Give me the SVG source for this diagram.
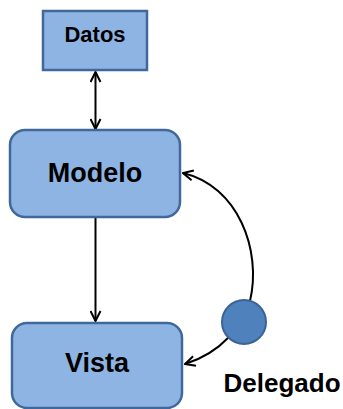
<svg xmlns="http://www.w3.org/2000/svg" width="343" height="409" viewBox="0 0 343 409">
<style>
.box{fill:#8EB4E3;stroke:#41689A;stroke-width:2.5}
.lbl{font-family:"Liberation Sans",Arial,sans-serif;font-weight:bold;fill:#000;text-anchor:middle}
.con{fill:none;stroke:#000;stroke-width:2}
</style>
<defs>
<marker id="ah" viewBox="0 0 12 12" refX="11" refY="6" markerWidth="12" markerHeight="12" markerUnits="userSpaceOnUse" orient="auto-start-reverse">
<path d="M1,1 L11,6 L1,11" fill="none" stroke="#000" stroke-width="2"/>
</marker>
</defs>
<rect width="343" height="409" fill="#fff"/>
<g id="connectors">
<line class="con" x1="95.5" y1="72" x2="95.5" y2="129" marker-start="url(#ah)" marker-end="url(#ah)"/>
<line class="con" x1="95.5" y1="218" x2="95.5" y2="321" marker-end="url(#ah)"/>
<path class="con" d="M250 301 C262 250 238 186 183 173" marker-end="url(#ah)"/>
<path class="con" d="M229 337 Q211 356 185 364" marker-end="url(#ah)"/>
</g>
<g id="datos">
<rect class="box" x="43" y="11" width="104" height="59"/>
<text class="lbl" x="95" y="42" font-size="22">Datos</text>
</g>
<g id="modelo">
<rect class="box" x="10" y="130" width="170" height="87" rx="15"/>
<text class="lbl" x="95" y="182" font-size="27">Modelo</text>
</g>
<g id="vista">
<rect class="box" x="12" y="323" width="170" height="85" rx="15"/>
<text class="lbl" x="97" y="372" font-size="27">Vista</text>
</g>
<g id="delegado">
<circle cx="244" cy="322" r="22" fill="#4F81BD" stroke="#3A6496" stroke-width="2"/>
<text class="lbl" x="282" y="392" font-size="26">Delegado</text>
</g>
</svg>
